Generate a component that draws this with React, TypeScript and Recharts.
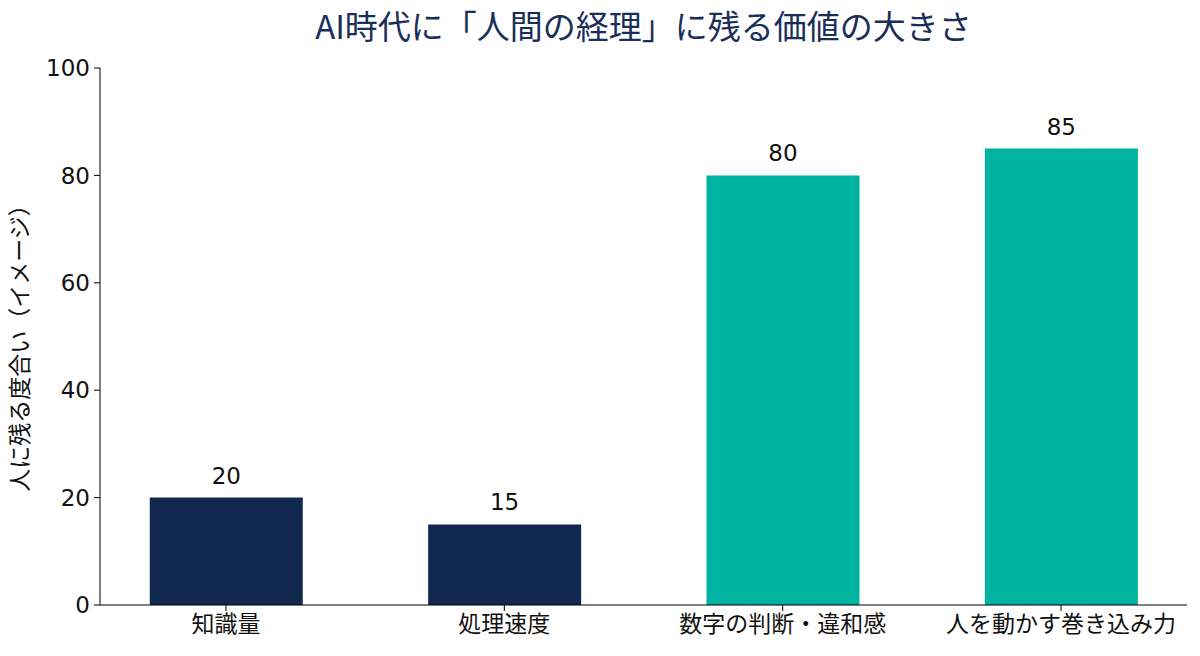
import React from 'react';
import { BarChart, Bar, XAxis, YAxis, Cell, LabelList } from 'recharts';

const categories = ['知識量', '処理速度', '数字の判断・違和感', '人を動かす巻き込み力'];
const values = [20, 15, 80, 85];
const colors = ['#12294f', '#12294f', '#00b3a0', '#00b3a0'];
const yTicks = [0, 20, 40, 60, 80, 100];
const xPositions = [0, 1, 2, 3];

const data = categories.map((name, i) => ({ x: xPositions[i], name, value: values[i] }));

const FONT = '"DejaVu Sans", "Noto Sans CJK JP", sans-serif';

export default function App() {
  return (
    <div style={{ position: 'absolute', left: 0, top: 0, width: 1200, height: 656, background: '#fff', fontFamily: FONT }}>
      <div
        style={{
          position: 'absolute',
          left: 100,
          width: 1087,
          top: 5,
          textAlign: 'center',
          fontSize: 33,
          color: '#1a2e5a',
          lineHeight: '40px',
          fontFamily: '"Noto Sans CJK JP", sans-serif',
        }}
      >
        AI時代に「人間の経理」に残る価値の大きさ
      </div>
      <BarChart
        width={1200}
        height={656}
        data={data}
        margin={{ top: 68, right: 13, bottom: 0, left: 0 }}
        style={{ fontFamily: FONT }}
      >
        <XAxis
          dataKey="x"
          type="number"
          domain={[-0.4525, 3.4525]}
          ticks={xPositions}
          tickFormatter={(v: number) => categories[v] ?? ''}
          allowDataOverflow
          height={51}
          stroke="#000"
          tickSize={6}
          tick={{ fill: '#111', fontSize: 23, fontFamily: '"Noto Sans CJK JP", sans-serif' }}
          tickMargin={5}
        />
        <YAxis
          type="number"
          domain={[0, 100]}
          ticks={yTicks}
          width={100}
          stroke="#000"
          tickSize={6}
          tickMargin={4}
          tick={{ fill: '#111', fontSize: 23 }}
          label={{ value: '人に残る度合い（イメージ）', angle: -90, position: 'center', dx: -30, dy: 6, fill: '#111', fontSize: 23, fontFamily: '"Noto Sans CJK JP", sans-serif' }}
        />
        <Bar dataKey="value" barSize={153} isAnimationActive={false}>
          {data.map((d, i) => (
            <Cell key={d.name} fill={colors[i]} />
          ))}
          <LabelList dataKey="value" position="top" offset={14} fill="#111" fontSize={23} />
        </Bar>
      </BarChart>
    </div>
  );
}
